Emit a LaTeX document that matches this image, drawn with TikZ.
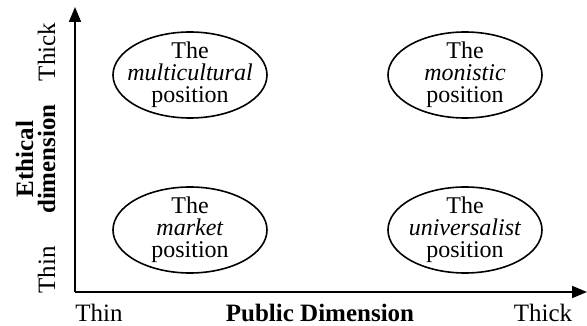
\documentclass[tikz,border=0pt]{standalone}
\usepackage{fontspec}
\setmainfont{Liberation Serif}
\usetikzlibrary{shapes.geometric,arrows.meta}
\begin{document}
\begin{tikzpicture}[x=1pt,y=-1pt,
  posbox/.style={ellipse,draw,line width=1.6pt,minimum width=154pt,minimum height=86pt,inner xsep=-15pt,inner ysep=-10pt,align=center,font=\fontsize{24}{22}\selectfont},
  axis/.style={line width=1.7pt,-{Triangle[length=15pt,width=12pt]}},
  lbl/.style={font=\fontsize{25}{22}\selectfont,inner sep=0pt,anchor=base},
  blbl/.style={lbl,font=\fontsize{25}{22}\selectfont\bfseries}]
\useasboundingbox (0,0) rectangle (587,326);
\coordinate (o) at (75,292);
\coordinate (ytip) at (75,7);
\coordinate (xtip) at (587,292);
\draw[axis] (o) -- (ytip);
\draw[axis] (o) -- (xtip);
\node[posbox] (mc) at (190,75) {The\\\textit{multicultural}\\position};
\node[posbox] (mo) at (465,75) {The\\\textit{monistic}\\position};
\node[posbox] (ma) at (190,230) {The\\\textit{market}\\position};
\node[posbox] (un) at (465,230) {The\\\textit{universalist}\\position};
\node[lbl] (xthin) at (99,321) {Thin};
\node[blbl] (xlab) at (320,321) {Public Dimension};
\node[lbl] (xthick) at (543,321) {Thick};
\node[lbl,rotate=90] (ythick) at (55,52) {Thick};
\node[lbl,rotate=90] (ythin) at (55,270) {Thin};
\node[blbl,rotate=90] (ylab1) at (33,159) {Ethical};
\node[blbl,rotate=90] (ylab2) at (55,159) {dimension};
\end{tikzpicture}
\end{document}
